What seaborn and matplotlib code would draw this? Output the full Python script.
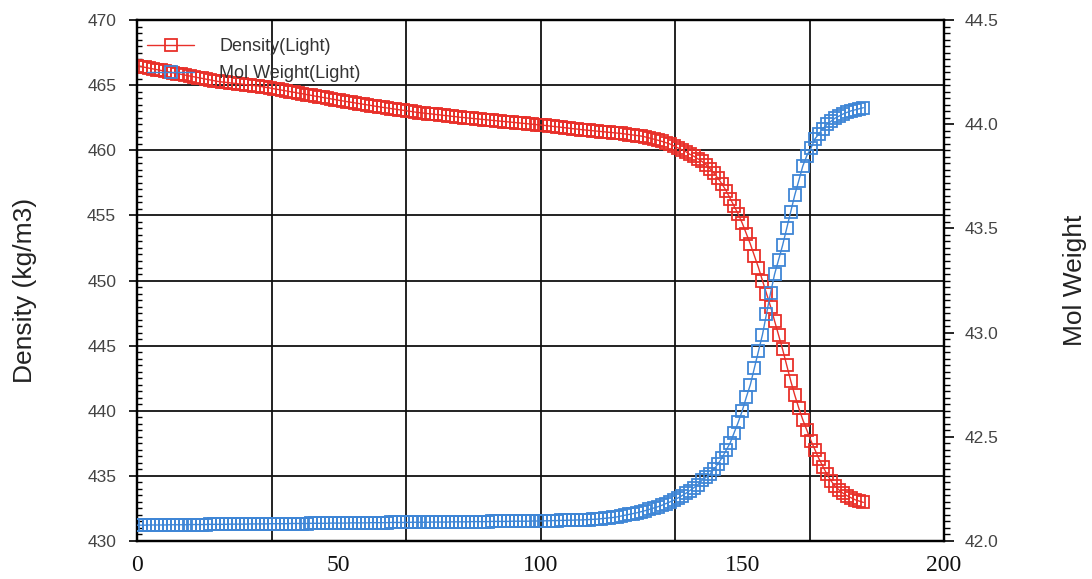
import numpy as np
import matplotlib
matplotlib.use("Agg")
import matplotlib.pyplot as plt
from matplotlib.ticker import MultipleLocator, FixedLocator, NullFormatter, FormatStrFormatter
import seaborn as sns

# ---- data ----
x_vals = list(range(0, 181))

density_light = [
    466.50, 466.44, 466.38, 466.32, 466.26, 466.20, 466.14, 466.08, 466.02, 465.96,
    465.90, 465.84, 465.78, 465.72, 465.66, 465.60, 465.54, 465.48, 465.42, 465.36,
    465.30, 465.26, 465.23, 465.19, 465.16, 465.12, 465.09, 465.05, 465.02, 464.98,
    464.95, 464.90, 464.84, 464.79, 464.73, 464.68, 464.62, 464.57, 464.51, 464.46,
    464.40, 464.35, 464.29, 464.24, 464.18, 464.13, 464.07, 464.02, 463.96, 463.91,
    463.85, 463.80, 463.75, 463.70, 463.65, 463.60, 463.55, 463.50, 463.45, 463.40,
    463.35, 463.30, 463.26, 463.21, 463.17, 463.12, 463.08, 463.03, 462.99, 462.94,
    462.90, 462.87, 462.83, 462.80, 462.76, 462.73, 462.69, 462.66, 462.62, 462.59,
    462.55, 462.52, 462.49, 462.46, 462.43, 462.40, 462.37, 462.34, 462.31, 462.28,
    462.25, 462.22, 462.19, 462.16, 462.13, 462.10, 462.07, 462.04, 462.01, 461.98,
    461.95, 461.92, 461.88, 461.85, 461.81, 461.78, 461.74, 461.71, 461.67, 461.64,
    461.60, 461.57, 461.54, 461.51, 461.48, 461.45, 461.42, 461.39, 461.36, 461.33,
    461.30, 461.26, 461.22, 461.18, 461.14, 461.10, 461.03, 460.95, 460.87, 460.79,
    460.70, 460.60, 460.50, 460.35, 460.20, 460.05, 459.90, 459.70, 459.55, 459.35,
    459.15, 458.90, 458.60, 458.25, 457.85, 457.40, 456.90, 456.30, 455.70, 455.10,
    454.40, 453.60, 452.80, 451.90, 451.00, 450.00, 449.00, 448.00, 446.90, 445.80,
    444.70, 443.50, 442.30, 441.20, 440.20, 439.30, 438.50, 437.70, 437.00, 436.30,
    435.70, 435.10, 434.60, 434.20, 433.90, 433.65, 433.45, 433.30, 433.15, 433.05,
    432.95,
]

mol_weight_light = [
    42.075, 42.075, 42.075, 42.076, 42.076, 42.076, 42.076, 42.076, 42.077, 42.077,
    42.077, 42.077, 42.077, 42.078, 42.078, 42.078, 42.078, 42.078, 42.079, 42.079,
    42.079, 42.079, 42.079, 42.080, 42.080, 42.080, 42.080, 42.080, 42.081, 42.081,
    42.081, 42.081, 42.081, 42.082, 42.082, 42.082, 42.082, 42.082, 42.083, 42.083,
    42.083, 42.083, 42.083, 42.084, 42.084, 42.084, 42.084, 42.084, 42.085, 42.085,
    42.085, 42.085, 42.085, 42.086, 42.086, 42.086, 42.086, 42.086, 42.087, 42.087,
    42.087, 42.087, 42.087, 42.088, 42.088, 42.088, 42.088, 42.088, 42.089, 42.089,
    42.089, 42.089, 42.089, 42.090, 42.090, 42.090, 42.090, 42.090, 42.091, 42.091,
    42.091, 42.091, 42.091, 42.092, 42.092, 42.092, 42.092, 42.092, 42.093, 42.093,
    42.093, 42.093, 42.093, 42.094, 42.094, 42.094, 42.094, 42.094, 42.095, 42.095,
    42.095, 42.096, 42.096, 42.097, 42.097, 42.098, 42.098, 42.099, 42.099, 42.100,
    42.100, 42.101, 42.102, 42.103, 42.104, 42.106, 42.108, 42.110, 42.112, 42.115,
    42.119, 42.123, 42.127, 42.131, 42.135, 42.140, 42.145, 42.151, 42.157, 42.163,
    42.170, 42.178, 42.186, 42.195, 42.205, 42.216, 42.228, 42.241, 42.255, 42.270,
    42.290, 42.305, 42.320, 42.345, 42.370, 42.400, 42.435, 42.470, 42.520, 42.570,
    42.625, 42.690, 42.750, 42.830, 42.910, 42.990, 43.090, 43.190, 43.280, 43.350,
    43.420, 43.500, 43.580, 43.660, 43.730, 43.800, 43.850, 43.885, 43.930, 43.955,
    43.980, 44.000, 44.015, 44.030, 44.040, 44.050, 44.058, 44.065, 44.070, 44.075,
    44.080,
]

series_labels = ["Density(Light)", "Mol Weight(Light)"]
x_label_ticks = [0, 50, 100, 150, 200]
left_label = "Density (kg/m3)"
right_label = "Mol Weight"

# ---- style ----
sns.set_theme(style="white")
plt.rcParams["font.family"] = ["Liberation Sans", "DejaVu Sans"]

RED = "#e8302a"
BLUE = "#3f86d6"

fig = plt.figure(figsize=(10.92, 5.79), dpi=100)
ax = fig.add_axes([0.1255, 0.066, 0.739, 0.899])
ax2 = ax.twinx()

sns.lineplot(x=x_vals, y=density_light, ax=ax, color=RED, marker="s",
             markersize=8, markerfacecolor="none", markeredgecolor=RED,
             markeredgewidth=1.3, linewidth=1.0, label=series_labels[0],
             legend=False, zorder=3)
sns.lineplot(x=x_vals, y=mol_weight_light, ax=ax2, color=BLUE, marker="s",
             markersize=8, markerfacecolor="none", markeredgecolor=BLUE,
             markeredgewidth=1.3, linewidth=1.0, label=series_labels[1],
             legend=False, zorder=3)

# limits
ax.set_xlim(0, 200)
ax.set_ylim(430, 470)
ax2.set_ylim(42.0, 44.5)

# x axis: gridlines / major ticks every 200/6, labels at 0,50,...
ax.xaxis.set_major_locator(FixedLocator(list(np.linspace(0, 200, 7))))
ax.xaxis.set_major_formatter(NullFormatter())
ax.xaxis.set_minor_locator(MultipleLocator(200 / 60))
ax.tick_params(axis="x", which="major", direction="out", length=6, width=1.3, color="black")
ax.tick_params(axis="x", which="minor", direction="in", length=4, width=1.0, color="black")

secx = ax.secondary_xaxis("bottom")
secx.set_xticks(x_label_ticks)
secx.set_xticklabels([str(v) for v in x_label_ticks], family=["Liberation Serif"],
                     fontsize=17, color="#111111")
secx.tick_params(length=0, pad=10)
secx.spines["bottom"].set_visible(False)

# left axis
ax.yaxis.set_major_locator(MultipleLocator(5))
ax.yaxis.set_minor_locator(MultipleLocator(0.5))
ax.tick_params(axis="y", which="major", direction="out", length=6, width=1.2,
               color="black", labelsize=12.5, labelcolor="#444444", pad=9)
ax.tick_params(axis="y", which="minor", direction="in", length=3.5, width=1.0, color="black")
ax.set_ylabel(left_label, fontsize=19, color="#222222")
ax.yaxis.set_label_coords(-0.124, 0.48)

# right axis
ax2.yaxis.set_major_locator(MultipleLocator(0.5))
ax2.yaxis.set_minor_locator(MultipleLocator(0.5 / 16))
ax2.yaxis.set_major_formatter(FormatStrFormatter("%.1f"))
ax2.tick_params(axis="y", which="major", direction="out", length=7, width=1.2,
                color="black", labelsize=12.5, labelcolor="#444444", pad=8)
ax2.tick_params(axis="y", which="minor", direction="out", length=4, width=1.0, color="black")
ax2.set_ylabel(right_label, fontsize=19, color="#222222")
ax2.yaxis.set_label_coords(1.1475, 0.5)

# grid
ax.grid(True, which="major", axis="both", color="#111111", linewidth=1.3)
ax.set_axisbelow(True)
ax2.grid(False)

for a in (ax, ax2):
    for s in a.spines.values():
        s.set_color("black")
        s.set_linewidth(1.6)
        s.set_visible(True)

# legend
h1, l1 = ax.get_legend_handles_labels()
h2, l2 = ax2.get_legend_handles_labels()
leg = ax2.legend(h1 + h2, l1 + l2, loc="upper left", frameon=False,
                 fontsize=13, handlelength=2.6, handletextpad=1.4,
                 labelspacing=0.55, borderaxespad=0.3,
                 bbox_to_anchor=(-0.003, 0.99))
for t in leg.get_texts():
    t.set_color("#333333")

fig.savefig("out.png", dpi=100)
